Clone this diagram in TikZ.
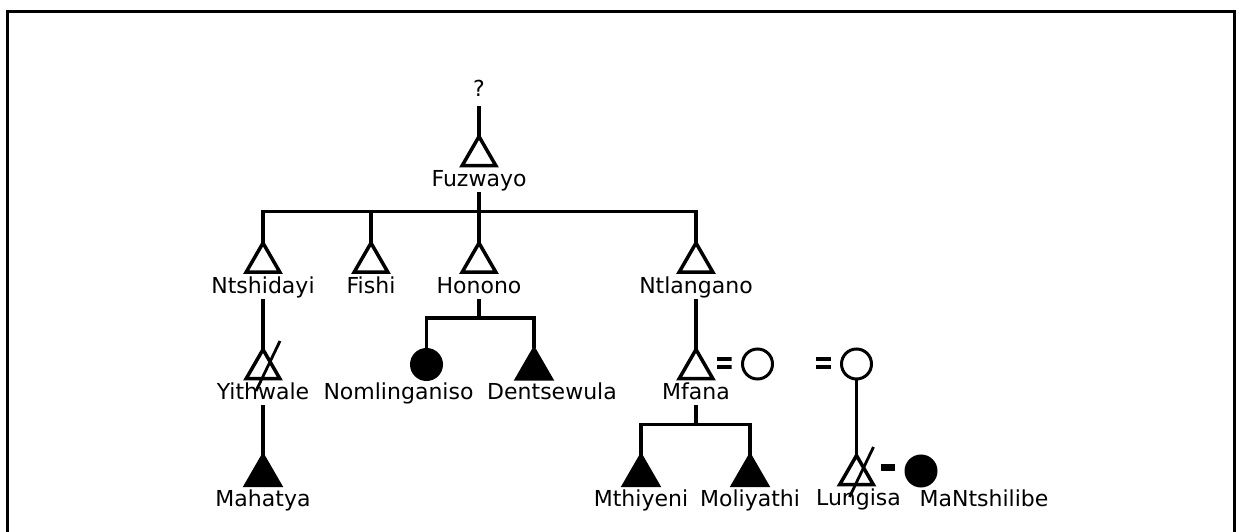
\documentclass[tikz,border=0pt]{standalone}
\usepackage{fontspec}
\setmainfont{DejaVu Sans}
\usetikzlibrary{shapes.geometric}

\tikzstyle{malestyle} = [regular polygon,
regular polygon sides=3,
minimum size=39pt,
inner sep=0pt,
outer sep=0pt,
draw=black,
line width=3.5pt,
fill=white]
\tikzstyle{blackmalestyle} = [regular polygon,
regular polygon sides=3,
minimum size=41pt,
inner sep=0pt,
outer sep=0pt,
draw=black,
line width=3pt,
fill=black]
\tikzstyle{femalestyle} = [circle,
minimum size=30pt,
inner sep=0pt,
outer sep=0pt,
draw=black,
line width=3pt,
fill=white]
\tikzstyle{blackfemalestyle} = [circle,
minimum size=30pt,
inner sep=0pt,
outer sep=0pt,
draw=black,
line width=3pt,
fill=black]
\tikzstyle{namestyle} = [inner sep=0pt,
text height=16pt,
text depth=5pt,
font=\fontsize{22pt}{26pt}\selectfont]
\tikzstyle{marriagestyle} = [rectangle,
minimum width=15pt,
minimum height=12.5pt,
inner sep=0pt,
fill=white,
path picture={
\fill[black] (path picture bounding box.north west) rectangle ([yshift=-4.5pt]path picture bounding box.north east);
\fill[black] ([yshift=4.5pt]path picture bounding box.south west) rectangle (path picture bounding box.south east);}]
\tikzstyle{dashstyle} = [rectangle,
minimum width=14pt,
minimum height=7pt,
inner sep=0pt,
fill=black]
\tikzstyle{kinline} = [line width=3.5pt]
\tikzstyle{slashstyle} = [line width=2.8pt]
\tikzstyle{framestyle} = [line width=3pt]

\begin{document}
\begin{tikzpicture}[x=1pt, y=1pt, node distance=25.5pt]
\useasboundingbox (0,0) rectangle (1236,532);
\draw [framestyle] (7.5,0) -- (7.5,520.5) -- (1234.5,520.5) -- (1234.5,0);

\node (fuzwayo) [malestyle] at (479,376) {};
\node (question) [namestyle, above of=fuzwayo, yshift=39pt] {?};
\node (fuzwayoname) [namestyle, below of=fuzwayo] {Fuzwayo};

\node (ntshidayi) [malestyle, below of=fuzwayo, xshift=-216pt, yshift=-81pt] {};
\node (fishi) [malestyle, right of=ntshidayi, xshift=82.5pt] {};
\node (honono) [malestyle, right of=fishi, xshift=82.5pt] {};
\node (ntlangano) [malestyle, right of=honono, xshift=191.5pt] {};
\node (ntshidayiname) [namestyle, below of=ntshidayi] {Ntshidayi};
\node (fishiname) [namestyle, below of=fishi] {Fishi};
\node (honononame) [namestyle, below of=honono] {Honono};
\node (ntlanganoname) [namestyle, below of=ntlangano] {Ntlangano};

\node (yithwale) [malestyle, below of=ntshidayi, yshift=-81pt] {};
\node (nomlinganiso) [blackfemalestyle, below of=honono, xshift=-52.5pt, yshift=-76.5pt] {};
\node (dentsewula) [blackmalestyle, below of=honono, xshift=55pt, yshift=-81pt] {};
\node (mfana) [malestyle, below of=ntlangano, yshift=-81pt] {};
\node (mfanawife) [femalestyle, right of=mfana, xshift=36pt, yshift=5pt] {};
\node (wifetwo) [femalestyle, right of=mfanawife, xshift=73.5pt] {};
\node (marriageone) [marriagestyle, right of=mfana, xshift=2.5pt, yshift=6pt] {};
\node (marriagetwo) [marriagestyle, left of=wifetwo, xshift=-7.5pt, yshift=1pt] {};
\node (yithwalename) [namestyle, below of=yithwale] {Yithwale};
\node (nomlinganisoname) [namestyle, below of=nomlinganiso, xshift=-28pt, yshift=-4pt] {Nomlinganiso};
\node (dentsewulaname) [namestyle, below of=dentsewula, xshift=18pt] {Dentsewula};
\node (mfananame) [namestyle, below of=mfana] {Mfana};

\node (mahatya) [blackmalestyle, below of=yithwale, yshift=-81pt] {};
\node (mthiyeni) [blackmalestyle, below of=mfana, xshift=-55pt, yshift=-81pt] {};
\node (moliyathi) [blackmalestyle, below of=mfana, xshift=54pt, yshift=-81pt] {};
\node (lungisa) [malestyle, below of=wifetwo, yshift=-85.5pt] {};
\node (separation) [dashstyle, right of=lungisa, xshift=6pt, yshift=7pt] {};
\node (mantshilibe) [blackfemalestyle, right of=separation, xshift=7.5pt, yshift=-3pt] {};
\node (mahatyaname) [namestyle, below of=mahatya] {Mahatya};
\node (mthiyeniname) [namestyle, below of=mthiyeni] {Mthiyeni};
\node (moliyathiname) [namestyle, below of=moliyathi] {Moliyathi};
\node (lungisaname) [namestyle, below of=lungisa, xshift=2pt] {Lungisa};
\node (mantshilibename) [namestyle, below of=mantshilibe, xshift=63pt, yshift=-4.5pt] {MaNtshilibe};

\coordinate (fuzwayofamily) at ([yshift=-19.5pt]fuzwayoname.south);
\coordinate (hononofamily) at ([yshift=-19.5pt]honononame.south);
\coordinate (mfanafamily) at ([yshift=-19.5pt]mfananame.south);

\draw [kinline, shorten <=4pt] (question.south) -- (fuzwayo.corner 1);
\draw [kinline] (fuzwayoname.south) -- (fuzwayofamily);
\draw [kinline] (ntshidayi.corner 1) |- (fuzwayofamily) -| (ntlangano.corner 1);
\draw [kinline] (fishi.corner 1) -- (fishi.corner 1 |- fuzwayofamily);
\draw [kinline] (honono.corner 1) -- (fuzwayofamily);
\draw [kinline] (ntshidayiname.south) -- (yithwale.corner 1);
\draw [kinline] (yithwalename.south) -- (mahatya.corner 1);
\draw [kinline] (honononame.south) -- (hononofamily);
\draw [kinline] (nomlinganiso.north) |- (hononofamily) -| (dentsewula.corner 1);
\draw [kinline] (ntlanganoname.south) -- (mfana.corner 1);
\draw [kinline] (mfananame.south) -- (mfanafamily);
\draw [kinline] (mthiyeni.corner 1) |- (mfanafamily) -| (moliyathi.corner 1);
\draw [kinline] (wifetwo.south) -- (lungisa.corner 1);
\draw [slashstyle] ([xshift=17pt,yshift=28pt]yithwale.center) -- ([xshift=-7pt,yshift=-22pt]yithwale.center);
\draw [slashstyle] ([xshift=17pt,yshift=28pt]lungisa.center) -- ([xshift=-7pt,yshift=-22pt]lungisa.center);
\end{tikzpicture}
\end{document}
